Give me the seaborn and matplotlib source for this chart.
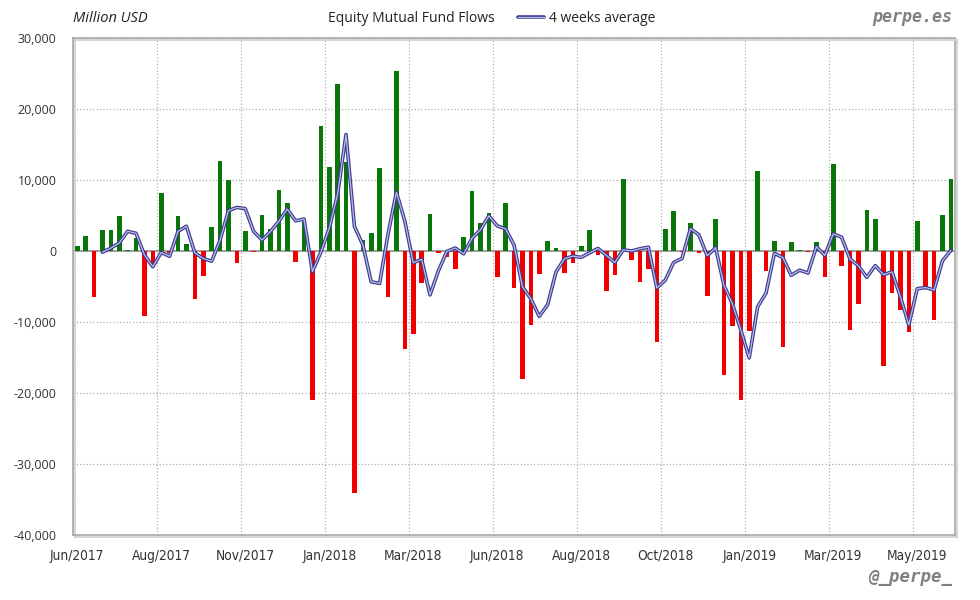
import numpy as np
import pandas as pd
import matplotlib.pyplot as plt
import matplotlib.patheffects as pe
import seaborn as sns
from matplotlib.lines import Line2D
from matplotlib.ticker import FuncFormatter

# weekly equity mutual fund flows, million USD (Jun/2017 .. May/2019)
weeks = list(range(105))
flows = [700, 2100, -6440, 2960, 2960, 4980, 190, 1830, -9120, -1790,
         8230, -330, 4980, 1030, -6720, -3480, 3430, 12740, 10010, -1650,
         2820, -140, 5120, 3100, 8600, 6815, -1550, 4140, -21010, 17670,
         11890, 23450, 12600, -34075, 1550, 2540, 11750, -6440, 25290, -13770,
         -11700, -4465, 5220, -235, -800, -2490, 1970, 8460, 3950, 5360,
         -3620, 6770, -5170, -18000, -10480, -3200, 1410, 420, -3055, -1650,
         700, 2960, -560, -5590, -3340, 10150, -1220, -4320, -2490, -12780,
         3100, 5640, -150, 3950, -235, -6300, 4510, -17440, -10530, -21010,
         -11230, 11280, -2770, 1410, -13580, 1270, 100, -190, 1270, -3710,
         12270, -2070, -11090, -7430, 5780, 4510, -16170, -5875, -8270, -11370,
         4280, -5220, -9680, 5080, 10150]

# 4 weeks average, starts at week 3
avg_weeks = list(range(3, 105))
avg_4w = [-170, 400, 1120, 2770, 2490, -530, -2220, -210, -750, 2770,
          3480, -260, -1050, -1440, 1490, 5680, 6130, 5980, 2760, 1540,
          2730, 4170, 5910, 4240, 4500, -2900, -190, 3170, 8000, 16400,
          3470, 880, -4350, -4560, 2350, 8290, 4210, -1660, -1160, -6180,
          -2800, -70, 420, -390, 1790, 2970, 4940, 3540, 3120, 840,
          -5010, -6720, -9210, -7570, -2960, -1110, -720, -900, -260, 360,
          -620, -1630, 170, 0, 320, 530, -5200, -4120, -1630, -1050,
          3140, 2300, -680, 480, -4870, -7440, -11120, -15050, -7870, -5930,
          -330, -920, -3420, -2700, -3100, 610, -630, 2410, 1940, -1150,
          -2080, -3700, -2060, -3330, -2940, -6450, -10420, -5310, -5150, -5500,
          -1390, 80]

tick_weeks = [0, 10, 20, 30, 40, 50, 60, 70, 80, 90, 100]
tick_labels = ['Jun/2017', 'Aug/2017', 'Nov/2017', 'Jan/2018', 'Mar/2018', 'Jun/2018',
               'Aug/2018', 'Oct/2018', 'Jan/2019', 'Mar/2019', 'May/2019']

df = pd.DataFrame({'week': weeks, 'flow': flows})
df['sign'] = np.where(df['flow'] >= 0, 'in', 'out')

sns.set_style('white')
plt.rcParams['font.family'] = ['Open Sans', 'DejaVu Sans']

fig = plt.figure(figsize=(9.8, 6), dpi=100)
ax = fig.add_axes([0.0745, 0.1083, 0.9, 0.8284])

sns.barplot(data=df, x='week', y='flow', hue='sign',
            palette={'in': '#0a760a', 'out': '#f20000'},
            dodge=False, width=0.55, legend=False, saturation=1,
            edgecolor='none', linewidth=0, ax=ax, zorder=3)

line_fx = [pe.Stroke(linewidth=2.6, foreground='#3c3c90'), pe.Normal()]
sns.lineplot(x=avg_weeks, y=avg_4w, ax=ax, color='#bcbcea', lw=0.9,
             zorder=4, path_effects=line_fx)

ax.set_xlim(-0.5, 104.5)
ax.set_ylim(-40000, 30000)
ax.set_yticks(range(-40000, 30001, 10000))
ax.yaxis.set_major_formatter(FuncFormatter(lambda v, p: f'{v:,.0f}'))
ax.set_xticks(tick_weeks)
ax.set_xticklabels(tick_labels, family='DejaVu Sans', stretch='condensed', fontsize=9.8)
ax.set_xticks([w - 0.5 for w in tick_weeks], minor=True)
ax.tick_params(axis='y', labelsize=9, length=0, pad=12, labelcolor='#333333')
ax.tick_params(axis='x', which='both', length=0, pad=10, labelcolor='#333333')
ax.set_xlabel('')
ax.set_ylabel('')

ax.grid(axis='y', ls=':', color='#b0b0b0', lw=0.9, zorder=0)
ax.grid(axis='x', which='minor', ls=':', color='#b0b0b0', lw=0.9, zorder=0)
ax.axhline(0, color='#9a9a9a', lw=1.3, zorder=2)
for s in ax.spines.values():
    s.set_color('#a8a8a8')
    s.set_linewidth(1.2)
    s.set_path_effects([pe.SimpleLineShadow(offset=(1.5, -1.5), shadow_color='#d0d0d0', alpha=1),
                        pe.Normal()])

fig.text(73 / 980, 1 - 18 / 600, 'Million USD', style='italic', fontsize=10.5,
         va='center', color='#222222')
fig.text(411 / 980, 1 - 18 / 600, 'Equity Mutual Fund Flows', fontsize=10,
         ha='center', va='center', color='#222222')
handle = Line2D([], [], color='#bcbcea', lw=0.9, path_effects=line_fx)
fig.legend(handles=[handle], labels=['4 weeks average'], loc='center left',
           bbox_to_anchor=(512 / 980, 1 - 18 / 600), frameon=False, fontsize=10,
           handlelength=1.9, handletextpad=0.35, borderaxespad=0)
fig.text(952 / 980, 1 - 17 / 600, 'perpe.es', family='DejaVu Sans Mono',
         weight='bold', style='italic', fontsize=12, color='#808080',
         ha='right', va='center')
fig.text(952 / 980, 1 - 577 / 600, '@_perpe_', family='DejaVu Sans Mono',
         weight='bold', style='italic', fontsize=12.5, color='#808080',
         ha='right', va='center')

fig.savefig('out.png', dpi=100)
